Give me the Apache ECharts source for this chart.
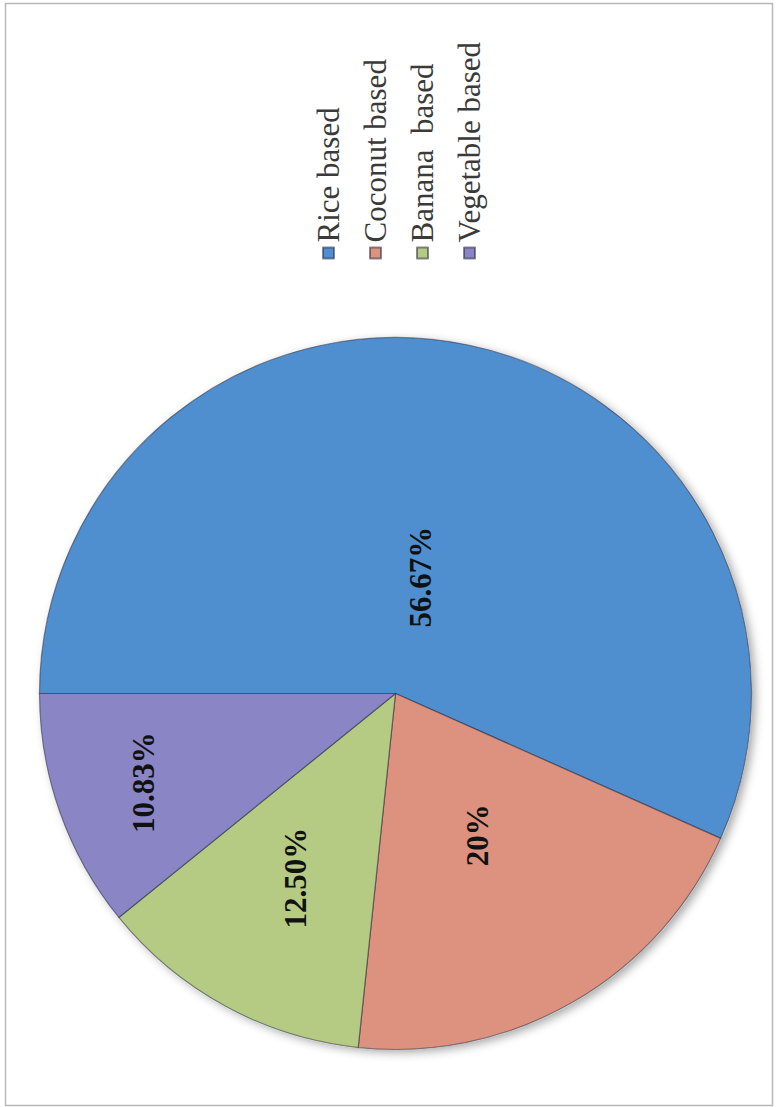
<!DOCTYPE html>
<html>
<head>
<meta charset="utf-8">
<script src="https://cdn.jsdelivr.net/npm/echarts@6/dist/echarts.min.js"></script>
<style>
  html, body { margin: 0; padding: 0; background: #ffffff; overflow: hidden; }
  body { width: 776px; height: 1107px; position: relative; }
  #chart {
    position: absolute;
    width: 1107px; height: 776px;
    left: -165.5px; top: 165.5px;
    transform: rotate(-90deg);
    transform-origin: 50% 50%;
  }
</style>
</head>
<body>
<div id="chart"></div>
<script>
// ---- data ----
const categories = ['Rice based', 'Coconut based', 'Banana  based', 'Vegetable based'];
const values = [56.67, 20, 12.5, 10.83];
const percentLabels = ['56.67%', '20%', '12.50%', '10.83%'];

// ---- style ----
const colors = ['#4f8fcf', '#dc927e', '#b5cb84', '#8a86c6'];
const labelRadiusRatio = [0.334, 0.46, 0.59, 0.75];
const CX = 414, CY = 395, R = 356;
const serif = "'Liberation Serif', 'Times New Roman', 'DejaVu Serif', serif";

const total = values.reduce((a, b) => a + b, 0);
const chart = echarts.init(document.getElementById('chart'), null, { renderer: 'svg', width: 1107, height: 776 });

chart.setOption({
  animation: false,
  backgroundColor: '#ffffff',
  graphic: [{
    type: 'rect',
    shape: { x: 2, y: 5, width: 1102, height: 767 },
    style: { fill: 'none', stroke: '#b8b8b8', lineWidth: 1.5 },
    silent: true
  }],
  legend: {
    data: categories,
    orient: 'vertical',
    left: 843,
    top: 305,
    itemWidth: 11,
    itemHeight: 11,
    itemGap: 11,
    icon: 'rect',
    textStyle: { fontFamily: serif, fontSize: 31, color: '#3a3a3a', lineHeight: 36 }
  },
  series: [
    {
      type: 'pie',
      silent: true,
      z: 1,
      center: [CX, CY],
      radius: [0, R],
      label: { show: false },
      labelLine: { show: false },
      data: [{ value: 1, name: '_shadow', itemStyle: { color: '#ffffff', shadowBlur: 10, shadowOffsetX: -3, shadowOffsetY: 4, shadowColor: 'rgba(0,0,0,0.35)' } }]
    },
    {
      type: 'pie',
      z: 2,
      center: [CX, CY],
      radius: [0, R],
      startAngle: 90,
      clockwise: true,
      color: colors,
      itemStyle: { borderColor: 'rgba(40,40,60,0.55)', borderWidth: 1.2 },
      label: {
        show: true,
        position: 'inside',
        fontFamily: serif,
        fontSize: 31,
        fontWeight: 'bold',
        color: '#111111',
        formatter: p => percentLabels[p.dataIndex]
      },
      labelLine: { show: false },
      labelLayout: function (p) {
        const i = p.dataIndex;
        let cum = 0;
        for (let j = 0; j < i; j++) cum += values[j];
        const mid = (cum + values[i] / 2) / total * 2 * Math.PI;
        const r = R * labelRadiusRatio[i];
        return { x: CX + r * Math.sin(mid), y: CY - r * Math.cos(mid), align: 'center', verticalAlign: 'middle' };
      },
      data: categories.map((c, i) => ({ name: c, value: values[i] }))
    }
  ]
});
</script>
</body>
</html>
